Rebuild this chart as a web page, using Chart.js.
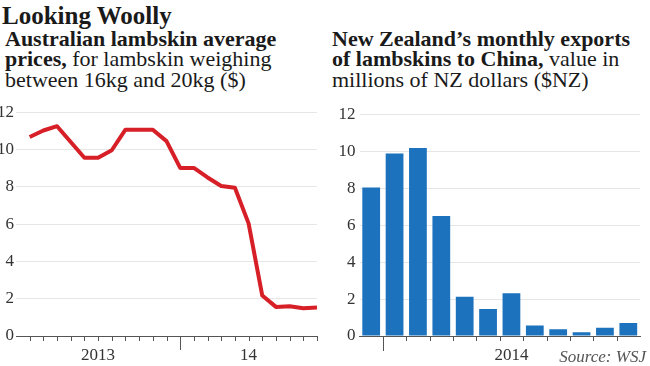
<!DOCTYPE html>
<html><head><meta charset="utf-8">
<script src="https://cdn.jsdelivr.net/npm/chart.js@4.4.0/dist/chart.umd.min.js"></script>
<style>
html,body{margin:0;padding:0;background:#fff;width:650px;height:366px;overflow:hidden;}
#wrap{position:relative;width:650px;height:366px;}
.t{position:absolute;font-family:"Liberation Serif",serif;color:#1a1a1a;white-space:nowrap;}
#h1{left:2px;top:2px;font-size:25px;font-weight:bold;line-height:28px;}
.sub{font-size:22px;line-height:20.7px;top:28.6px;}
#s1{left:5px;}
#s2{left:332px;}
#src{right:4px;top:347px;font-size:17px;font-style:italic;color:#555;}
.c{position:absolute;top:100px;width:325px;height:266px;}
</style></head>
<body><div id="wrap">
<div class="t" id="h1">Looking Woolly</div>
<div class="t sub" id="s1"><b>Australian lambskin average<br>prices,</b> for lambskin weighing<br>between 16kg and 20kg ($)</div>
<div class="t sub" id="s2"><b>New Zealand’s monthly exports<br>of lambskins to China,</b> value in<br>millions of NZ dollars ($NZ)</div>
<div class="c" style="left:0"><canvas id="c1" width="325" height="266"></canvas></div>
<div class="c" style="left:325px"><canvas id="c2" width="325" height="266"></canvas></div>
<div class="t" id="src">Source: WSJ</div>
</div>
<script>
// ---- Data ----
const priceMonths = ['2013-02','2013-03','2013-04','2013-05','2013-06','2013-07','2013-08','2013-09','2013-10','2013-11','2013-12',
  '2014-01','2014-02','2014-03','2014-04','2014-05','2014-06','2014-07','2014-08','2014-09','2014-10','2014-11'];
const priceValues = [10.67, 11.02, 11.25, 10.4, 9.56, 9.56, 9.96, 11.06, 11.06, 11.06, 10.45,
  9.01, 9.01, 8.5, 8.04, 7.95, 6.04, 2.17, 1.56, 1.6, 1.49, 1.53];
const priceYearLabels = ['2013', '14'];

const exportMonths = ['Dec 2013','Jan 2014','Feb 2014','Mar 2014','Apr 2014','May 2014','Jun 2014','Jul 2014','Aug 2014','Sep 2014','Oct 2014','Nov 2014'];
const exportValues = [8.04, 9.87, 10.17, 6.49, 2.13, 1.46, 2.31, 0.57, 0.36, 0.2, 0.44, 0.71];
const exportYearLabel = '2014';

const yTicks = [0, 2, 4, 6, 8, 10, 12];

// ---- helpers ----
const monthIndex = s => { const [y, m] = s.split('-').map(Number); return (y - 2013) * 12 + (m - 1); };
const FONT = {family: '"Liberation Serif", serif', size: 17};
const TXT = '#333';
const GRID = '#e6e6e6';
const AXIS = '#555';

const tickMarks = {
  id: 'tickMarks',
  afterDraw(chart, args, o) {
    const x = chart.scales.x, ctx = chart.ctx, y0 = chart.chartArea.bottom;
    ctx.save();
    ctx.strokeStyle = AXIS; ctx.lineWidth = 1;
    o.values.forEach(v => {
      const px = Math.round(x.getPixelForValue(v)) + 0.5;
      const len = o.major.includes(v) ? o.majorLen : o.minorLen;
      ctx.beginPath(); ctx.moveTo(px, y0); ctx.lineTo(px, y0 + len); ctx.stroke();
    });
    ctx.restore();
  }
};

const yScale = (w, pad) => ({
  min: 0, max: 12,
  afterFit: s => { s.width = w; },
  afterBuildTicks: s => { s.ticks = yTicks.map(v => ({value: v})); },
  ticks: {font: FONT, color: TXT, padding: pad},
  grid: {color: GRID, drawTicks: false},
  border: {display: false}
});

const xBase = {
  afterFit: s => { s.height = 30; },
  grid: {display: false, drawTicks: false},
  border: {display: true, color: AXIS, width: 1}
};

// ---- Line chart ----
const lineX = priceMonths.map(monthIndex);
const jan2014 = monthIndex('2014-01');
const lastX = lineX[lineX.length - 1];
const labelAt = {};
labelAt[Math.round(jan2014 / 2)] = priceYearLabels[0];
labelAt[Math.round((jan2014 + lastX) / 2)] = priceYearLabels[1];

new Chart(document.getElementById('c1'), {
  type: 'line',
  data: {datasets: [{
    data: lineX.map((x, i) => ({x, y: priceValues[i]})),
    borderColor: '#d71f27', borderWidth: 4, pointRadius: 0, tension: 0,
    borderJoinStyle: 'round', borderCapStyle: 'butt', clip: false
  }]},
  options: {
    responsive: false, animation: false, devicePixelRatio: 1,
    layout: {padding: {top: 11.7, right: 8, left: 0, bottom: 0}},
    plugins: {legend: {display: false}, tooltip: {enabled: false},
      tickMarks: {values: lineX, major: [jan2014], minorLen: 5, majorLen: 14}},
    scales: {
      x: Object.assign({type: 'linear', min: 0, max: lastX,
        afterBuildTicks: s => { s.ticks = Object.keys(labelAt).map(v => ({value: Number(v)})); },
        ticks: {font: FONT, color: TXT, padding: 9, maxRotation: 0, autoSkip: false,
          callback: v => labelAt[v] ?? ''}
      }, xBase),
      y: yScale(16, 2)
    }
  },
  plugins: [tickMarks]
});

// ---- Bar chart ----
const boundaries = exportMonths.slice(1).map((m, i) => i + 0.5);
new Chart(document.getElementById('c2'), {
  type: 'bar',
  data: {labels: exportMonths, datasets: [{
    data: exportValues, backgroundColor: '#1c72bd', borderWidth: 0,
    barPercentage: 0.76, categoryPercentage: 1
  }]},
  options: {
    responsive: false, animation: false, devicePixelRatio: 1,
    layout: {padding: {top: 11.7, right: 10, left: 0, bottom: 0}},
    plugins: {legend: {display: false}, tooltip: {enabled: false},
      tickMarks: {values: boundaries, major: [boundaries[0]], minorLen: 5, majorLen: 15}},
    scales: {
      x: Object.assign({
        ticks: {font: FONT, color: TXT, padding: 9, maxRotation: 0, autoSkip: false,
          callback: (v, i) => exportMonths[i] === 'Jun 2014' ? exportYearLabel : ''}
      }, xBase),
      y: yScale(34.5, 4)
    }
  },
  plugins: [tickMarks]
});
</script>
</body></html>
